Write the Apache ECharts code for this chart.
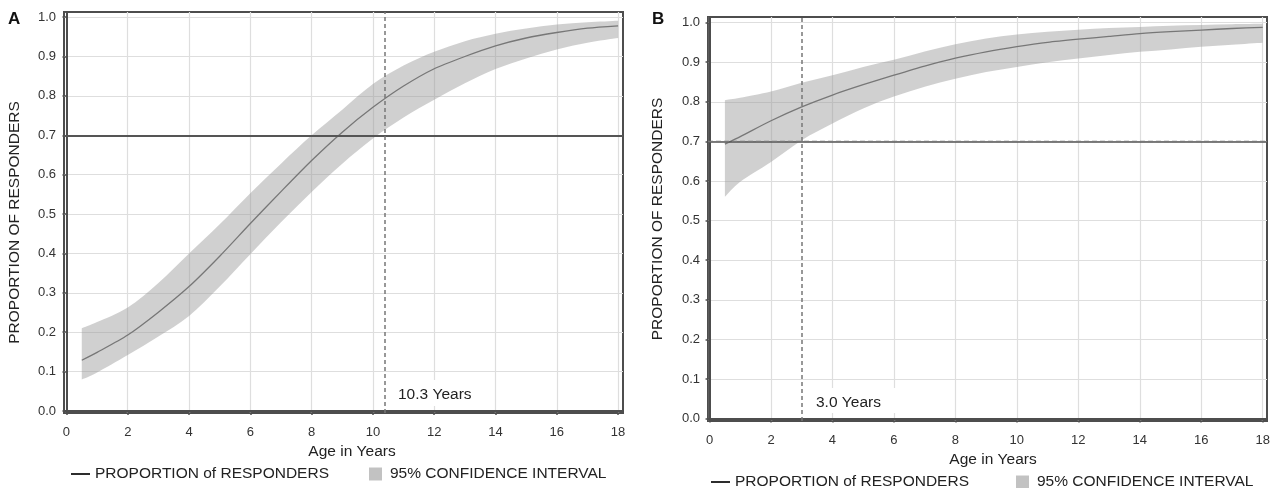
<!DOCTYPE html>
<html><head><meta charset="utf-8">
<script src="https://cdn.jsdelivr.net/npm/echarts@6/dist/echarts.min.js"></script>
<style>html,body{margin:0;padding:0;background:#fff}#c{width:1278px;height:488px}</style>
</head><body><div id="c"></div>
<script>
// ---- data ----
const ages   = [0.5, 1, 2, 3, 4, 5, 6, 7, 8, 9, 10, 11, 12, 13, 14, 15, 16, 17, 18];
const aFit   = [0.129, 0.149, 0.193, 0.251, 0.316, 0.393, 0.476, 0.557, 0.636, 0.708, 0.771, 0.825, 0.869, 0.900, 0.927, 0.947, 0.961, 0.972, 0.978];
const aUpper = [0.210, 0.226, 0.263, 0.325, 0.400, 0.474, 0.553, 0.628, 0.700, 0.765, 0.830, 0.877, 0.912, 0.939, 0.958, 0.971, 0.981, 0.987, 0.991];
const aLower = [0.080, 0.098, 0.142, 0.189, 0.241, 0.316, 0.398, 0.479, 0.556, 0.628, 0.692, 0.745, 0.790, 0.832, 0.868, 0.895, 0.918, 0.935, 0.947];
const bFit   = [0.693, 0.712, 0.752, 0.787, 0.817, 0.843, 0.867, 0.890, 0.910, 0.926, 0.939, 0.950, 0.958, 0.965, 0.972, 0.977, 0.981, 0.985, 0.988];
const bUpper = [0.804, 0.810, 0.826, 0.848, 0.867, 0.888, 0.906, 0.927, 0.945, 0.960, 0.970, 0.977, 0.982, 0.986, 0.989, 0.992, 0.994, 0.996, 0.997];
const bLower = [0.560, 0.598, 0.648, 0.703, 0.745, 0.783, 0.813, 0.838, 0.858, 0.875, 0.888, 0.900, 0.909, 0.918, 0.926, 0.932, 0.939, 0.944, 0.949];
const xTicks = [0, 2, 4, 6, 8, 10, 12, 14, 16, 18];
const yTicks = [0.0, 0.1, 0.2, 0.3, 0.4, 0.5, 0.6, 0.7, 0.8, 0.9, 1.0];
const threshold = 0.7;
const aCutAge = 10.4, aCutLabel = '10.3 Years';
const bCutAge = 3.0,  bCutLabel = '3.0 Years';
const lineName = 'PROPORTION of RESPONDERS';
const bandName = '95% CONFIDENCE INTERVAL';
const xTitle = 'Age in Years';
const yTitle = 'PROPORTION OF RESPONDERS';

// ---- chart ----
const FF = '"Liberation Sans", Arial, sans-serif';
const frameC = '#4d4d4d';
const pair = (arr) => ages.map((x, i) => [x, arr[i]]);

// Catmull-Rom spline through pixel points -> SVG path segments (no leading M)
function splineSegs(p) {
  let d = '';
  const n = p.length;
  for (let i = 0; i < n - 1; i++) {
    const p0 = p[Math.max(i - 1, 0)], p1 = p[i], p2 = p[i + 1], p3 = p[Math.min(i + 2, n - 1)];
    const c1 = [p1[0] + (p2[0] - p0[0]) / 6, p1[1] + (p2[1] - p0[1]) / 6];
    const c2 = [p2[0] - (p3[0] - p1[0]) / 6, p2[1] - (p3[1] - p1[1]) / 6];
    d += 'C' + c1[0] + ',' + c1[1] + ' ' + c2[0] + ',' + c2[1] + ' ' + p2[0] + ',' + p2[1];
  }
  return d;
}

function xAxisFor(gi, min, max, padLeft) {
  return {
    gridIndex: gi, type: 'value', min: min, max: max, minInterval: 2, maxInterval: 2,
    axisLine: { show: true, lineStyle: { color: frameC, width: 2 } },
    axisTick: { show: true, length: 4, customValues: xTicks, lineStyle: { color: frameC, width: 1.5 } },
    axisLabel: { customValues: xTicks, margin: 13, fontSize: 13, color: '#333', fontFamily: FF },
    splitLine: { show: true, lineStyle: { color: '#dedede', width: 1.2 } },
    name: xTitle, nameLocation: 'middle', nameGap: 31,
    nameTextStyle: { fontSize: 15.5, color: '#222', fontFamily: FF, padding: [0, 0, 0, padLeft] }
  };
}
function yAxisFor(gi, min, max, gap, padR) {
  return {
    gridIndex: gi, type: 'value', min: min, max: max, minInterval: 0.1, maxInterval: 0.1,
    axisLine: { show: true, lineStyle: { color: frameC, width: 2 } },
    axisTick: { show: true, length: 4, customValues: yTicks, lineStyle: { color: frameC, width: 1.5 } },
    axisLabel: { customValues: yTicks, margin: 8, fontSize: 13, color: '#333', fontFamily: FF,
                 formatter: v => v.toFixed(1) },
    splitLine: { show: true, lineStyle: { color: '#dedede', width: 1.2 } },
    name: yTitle, nameLocation: 'middle', nameGap: gap, nameRotate: 90,
    nameTextStyle: { fontSize: 15.5, color: '#222', fontFamily: FF, padding: [0, padR, 0, 0] }
  };
}
function seriesFor(gi, fit, up, lo, cutAge, hDouble) {
  const hLines = hDouble
    ? [{ yAxis: threshold + 0.0035, lineStyle: { color: '#555', width: 1.5, type: 'solid' } },
       { yAxis: threshold - 0.0015, lineStyle: { color: '#777', width: 1.3, type: [5, 3] } }]
    : [{ yAxis: threshold, lineStyle: { color: '#555', width: 2, type: 'solid' } }];
  return [
    { name: bandName, type: 'custom', xAxisIndex: gi, yAxisIndex: gi, silent: true, z: 2,
      data: ages.map((x, i) => [x, lo[i], up[i]]),
      encode: { x: 0, y: [1, 2] },
      renderItem: function (params, api) {
        if (params.dataIndex !== 0) return null;
        const top = ages.map((x, i) => api.coord([x, up[i]]));
        const bot = ages.map((x, i) => api.coord([x, lo[i]])).reverse();
        const d = 'M' + top[0][0] + ',' + top[0][1] + splineSegs(top) +
                  'L' + bot[0][0] + ',' + bot[0][1] + splineSegs(bot) + 'Z';
        return { type: 'path', shape: { pathData: d },
                 style: { fill: 'rgba(150,150,150,0.45)' } };
      } },
    { name: lineName, type: 'line', xAxisIndex: gi, yAxisIndex: gi, data: pair(fit),
      symbol: 'none', smooth: 0.25, lineStyle: { color: '#777', width: 1.3 }, silent: true, z: 3,
      markLine: { silent: true, symbol: ['none', 'none'], label: { show: false },
        data: hLines.concat([{ xAxis: cutAge, lineStyle: { color: '#777', width: 1.5, type: [4, 3] } }]) } }
  ];
}
function legendFor(left, top, gap) {
  return {
    left: left, top: top, padding: 0, itemWidth: 19, itemHeight: 13, itemGap: gap, selectedMode: false,
    textStyle: { fontSize: 15.5, color: '#222', fontFamily: FF },
    data: [
      { name: lineName, icon: 'path://M0,0H20V2H0Z', itemStyle: { color: '#222', borderWidth: 0 } },
      { name: bandName, icon: 'path://M0,0H10V10H0Z', itemStyle: { color: '#c2c2c2', borderWidth: 0 } }
    ]
  };
}

const chart = echarts.init(document.getElementById('c'), null, { renderer: 'canvas' });
chart.setOption({
  backgroundColor: '#fff',
  animation: false,
  grid: [
    { left: 64, top: 12, width: 559, height: 401, show: true, borderColor: frameC, borderWidth: 2, backgroundColor: 'transparent' },
    { left: 708, top: 17, width: 559, height: 404, show: true, borderColor: frameC, borderWidth: 2, backgroundColor: 'transparent' }
  ],
  xAxis: [ xAxisFor(0, -0.08, 18.16, 17), xAxisFor(1, -0.05, 18.14, 11) ],
  yAxis: [ yAxisFor(0, -0.005, 1.013, 41, 20), yAxisFor(1, -0.006, 1.014, 42, 0) ],
  legend: [ legendFor(71, 466, 40), legendFor(711, 474, 47) ],
  series: [].concat(
    seriesFor(0, aFit, aUpper, aLower, aCutAge, false),
    seriesFor(1, bFit, bUpper, bLower, bCutAge, true)
  ),
  graphic: [
    { type: 'text', x: 8, y: 11, z: 5, style: { text: 'A', font: 'bold 17px ' + FF, fill: '#111' } },
    { type: 'text', x: 652, y: 11, z: 5, style: { text: 'B', font: 'bold 17px ' + FF, fill: '#111' } },
    { type: 'text', x: 390, y: 380, z: 1, style: { text: aCutLabel, font: '15.5px ' + FF, fill: '#222',
        backgroundColor: '#fff', padding: [7, 8, 3, 8] } },
    { type: 'text', x: 808, y: 388, z: 1, style: { text: bCutLabel, font: '15.5px ' + FF, fill: '#222',
        backgroundColor: '#fff', padding: [7, 16, 2, 8] } }
  ]
});
</script></body></html>
